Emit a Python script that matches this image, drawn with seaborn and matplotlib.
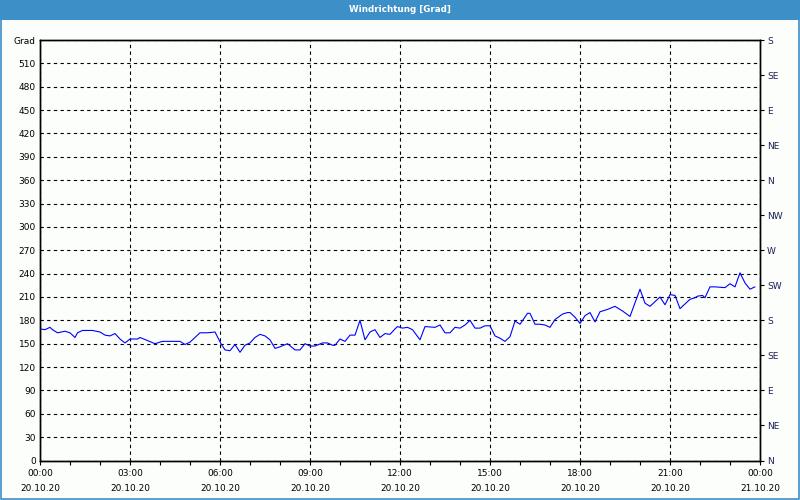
import pandas as pd
import numpy as np
import matplotlib
matplotlib.use("Agg")
import matplotlib.pyplot as plt
import matplotlib.dates as mdates
from matplotlib.patches import Rectangle
import seaborn as sns

# minutes after 20.10.20 00:00 and wind direction in degrees
minutes = [0, 10, 20, 25, 35, 50, 60, 70, 75, 85, 105, 120, 130, 140, 150, 160, 170, 180,
           195, 200, 215, 230, 245, 280, 290, 300, 320, 335, 350, 362,
           370, 380, 390, 400, 410, 420, 430, 440, 450, 460, 470, 480, 495, 510, 520, 530,
           540, 550, 565, 575, 585, 590, 600, 610, 620, 630, 640, 650, 660, 670, 680, 690,
           700, 710, 715, 725, 735, 745, 760, 770, 790, 800, 810, 820, 830, 840, 850, 860,
           870, 880, 890, 900, 910, 920, 930, 940, 950, 960, 975, 980, 990, 1000, 1010,
           1020, 1030, 1045, 1055, 1060, 1070, 1080, 1090, 1100, 1110, 1120, 1135, 1150,
           1165, 1180, 1200, 1210, 1220, 1230, 1240, 1250, 1260, 1270, 1280, 1290, 1300,
           1310, 1315, 1325, 1330, 1340, 1350, 1370, 1380, 1390, 1400, 1410, 1420, 1430]
grad = [169, 168, 171, 168, 164, 166, 164, 158, 164, 167, 167, 165, 161, 160, 163, 156, 151, 156,
        156, 158, 154, 150, 153, 153, 149, 152, 164, 164, 165, 150,
        142, 141, 149, 139, 148, 151, 158, 162, 160, 155, 144, 146, 150, 142, 142, 150,
        147, 147, 151, 151, 148, 148, 156, 153, 161, 161, 180, 155, 165, 168, 158, 163,
        162, 169, 172, 170, 171, 168, 155, 172, 171, 174, 164, 164, 171, 170, 174, 180,
        170, 170, 173, 173, 160, 157, 153, 159, 179, 175, 189, 189, 175, 175, 174,
        171, 181, 188, 190, 190, 184, 176, 186, 190, 178, 191, 194, 198,
        192, 185, 220, 202, 198, 204, 210, 200, 213, 212, 195, 201, 207,
        209, 211, 212, 209, 223, 223, 222, 227, 223, 241, 228, 220, 223]

left_ticks = list(range(0, 541, 30))
left_labels = [str(v) for v in range(0, 511, 30)] + ["Grad"]
right_ticks = list(range(0, 541, 45))
right_labels = ["N", "NE", "E", "SE", "S", "SW", "W", "NW", "N", "NE", "E", "SE", "S"]

start = pd.Timestamp("2020-10-20 00:00")
df = pd.DataFrame({"Zeit": start + pd.to_timedelta(minutes, unit="min"), "Grad": grad})

sns.set_style("white")
plt.rcParams["font.family"] = ["DejaVu Sans"]

fig = plt.figure(figsize=(8, 5), dpi=100, facecolor="#fcfefc")
ax = fig.add_axes([0.05, 0.079, 0.90, 0.841])
ax.set_facecolor("#fcfefc")

sns.lineplot(data=df, x="Zeit", y="Grad", color="#0000ff", linewidth=0.8, ax=ax)

ax.set_xlim(start, start + pd.Timedelta(hours=24))
ax.set_ylim(0, 540)
ax.set_xlabel("")
ax.set_ylabel("")

ax.xaxis.set_major_locator(mdates.HourLocator(byhour=range(0, 24, 3)))
ax.xaxis.set_minor_locator(mdates.HourLocator())
ax.xaxis.set_major_formatter(mdates.DateFormatter("%H:%M\n%d.%m.%y"))
ax.set_yticks(left_ticks)
ax.set_yticklabels(left_labels)

ax.grid(True, which="major", color="black", linestyle=(0, (3, 3)), linewidth=0.8)
for s in ax.spines.values():
    s.set_color("black")
    s.set_linewidth(1.0)

ax.tick_params(axis="y", which="both", length=0, pad=3, labelsize=6.5, colors="black")
ax.tick_params(axis="x", which="both", length=3, width=0.8, pad=3, labelsize=6.5,
               direction="out", colors="black", bottom=True)
for lab in ax.get_xticklabels():
    lab.set_linespacing(1.9)

ax2 = ax.twinx()
ax2.set_ylim(0, 540)
ax2.set_yticks(right_ticks)
ax2.set_yticklabels(right_labels)
ax2.tick_params(axis="y", length=3, width=0.8, pad=2, labelsize=6.5, colors="black")
for lab in ax2.get_yticklabels():
    lab.set_color("#1a2050")
for s in ax2.spines.values():
    s.set_color("black")
    s.set_linewidth(1.0)

# title bar and window frame
fig.patches.append(Rectangle((0, 0.96), 1, 0.04, transform=fig.transFigure,
                             facecolor="#3d8fc8", edgecolor="none", zorder=0))
fig.patches.append(Rectangle((0.001, 0.002), 0.998, 0.996, transform=fig.transFigure,
                             facecolor="none", edgecolor="#3d8fc8", linewidth=1.2, zorder=1))
fig.text(0.5, 0.98, "Windrichtung [Grad]", color="white", fontsize=6.3,
         fontweight="bold", ha="center", va="center")

fig.savefig("out.png", dpi=100, facecolor=fig.get_facecolor())
